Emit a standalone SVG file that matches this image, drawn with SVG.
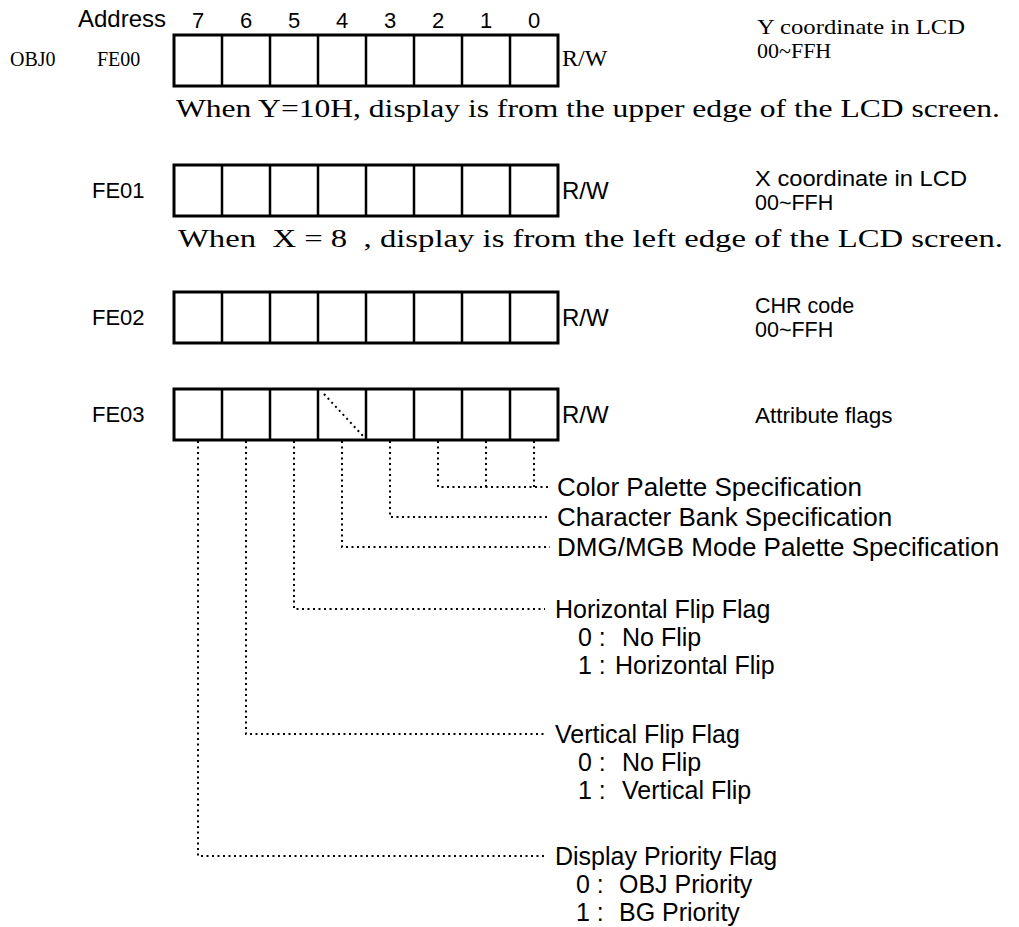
<svg xmlns="http://www.w3.org/2000/svg" width="1019" height="927" viewBox="0 0 1019 927">
<style>
.sans{font-family:"Liberation Sans",Arial,sans-serif;fill:#000}
.serif{font-family:"Liberation Serif","Times New Roman",serif;fill:#000}
.box{fill:#fff;stroke:#000;stroke-width:3}
.div{stroke:#000;stroke-width:2.5}
.dot{fill:none;stroke:#000;stroke-width:2;stroke-dasharray:2 3.5}
.pre{white-space:pre}
</style>
<rect width="1019" height="927" fill="#fff"/>
<g id="header">
<text class="sans" x="78" y="27" font-size="24">Address</text>
<g class="sans" font-size="22" text-anchor="middle">
<text x="198" y="28">7</text><text x="246" y="28">6</text><text x="294" y="28">5</text><text x="342" y="28">4</text>
<text x="390" y="28">3</text><text x="438" y="28">2</text><text x="486" y="28">1</text><text x="534" y="28">0</text>
</g>
</g>
<g id="FE00">
<text class="serif" x="10" y="66" font-size="20">OBJ0</text>
<text class="serif" x="97" y="66" font-size="20">FE00</text>
<rect class="box" x="174" y="35" width="384" height="51"/>
<path class="div" d="M222 35V86M270 35V86M318 35V86M366 35V86M414 35V86M462 35V86M510 35V86"/>
<text class="serif" x="562" y="66" font-size="24">R/W</text>
<text class="serif" x="757" y="34" font-size="22" textLength="208" lengthAdjust="spacingAndGlyphs">Y coordinate in LCD</text>
<text class="serif" x="757" y="58" font-size="22">00~FFH</text>
</g>
<text id="noteY" class="serif" x="176" y="117" font-size="25" textLength="824" lengthAdjust="spacingAndGlyphs">When Y=10H, display is from the upper edge of the LCD screen.</text>
<g id="FE01">
<text class="sans" x="92" y="198" font-size="22">FE01</text>
<rect class="box" x="174" y="165" width="384" height="51"/>
<path class="div" d="M222 165V216M270 165V216M318 165V216M366 165V216M414 165V216M462 165V216M510 165V216"/>
<text class="sans" x="562" y="199" font-size="24">R/W</text>
<text class="sans" x="755" y="186" font-size="21.5" textLength="212" lengthAdjust="spacingAndGlyphs">X coordinate in LCD</text>
<text class="sans" x="755" y="210" font-size="21.5">00~FFH</text>
</g>
<text id="noteX" class="serif pre" x="178" y="247" font-size="25" textLength="825" lengthAdjust="spacingAndGlyphs">When  X = 8  , display is from the left edge of the LCD screen.</text>
<g id="FE02">
<text class="sans" x="92" y="325" font-size="22">FE02</text>
<rect class="box" x="174" y="292" width="384" height="51"/>
<path class="div" d="M222 292V343M270 292V343M318 292V343M366 292V343M414 292V343M462 292V343M510 292V343"/>
<text class="sans" x="562" y="326" font-size="24">R/W</text>
<text class="sans" x="755" y="313" font-size="21.5">CHR code</text>
<text class="sans" x="755" y="337" font-size="21.5">00~FFH</text>
</g>
<g id="FE03">
<text class="sans" x="92" y="422" font-size="22">FE03</text>
<rect class="box" x="174" y="389" width="384" height="51"/>
<path class="div" d="M222 389V440M270 389V440M318 389V440M366 389V440M414 389V440M462 389V440M510 389V440"/>
<path class="dot" d="M324 394L363 436"/>
<text class="sans" x="562" y="423" font-size="24">R/W</text>
<text class="sans" x="755" y="423" font-size="22.5">Attribute flags</text>
</g>
<g id="connectors">
<path class="dot" d="M438 441V487H550M486 441V487M534 441V487"/>
<path class="dot" d="M390 441V517H550"/>
<path class="dot" d="M342 441V547H550"/>
<path class="dot" d="M294 441V609H545"/>
<path class="dot" d="M246 441V734H545"/>
<path class="dot" d="M198 441V856H545"/>
</g>
<g id="labels" class="sans" font-size="25">
<text x="557" y="496" font-size="26">Color Palette Specification</text>
<text x="557" y="526" font-size="26">Character Bank Specification</text>
<text x="557" y="556" font-size="26">DMG/MGB Mode Palette Specification</text>
<g id="hflip">
<text x="555" y="618">Horizontal Flip Flag</text>
<text x="578" y="646">0 :<tspan x="622">No Flip</tspan></text>
<text x="578" y="674">1 :<tspan x="615">Horizontal Flip</tspan></text>
</g>
<g id="vflip">
<text x="555" y="743">Vertical Flip Flag</text>
<text x="578" y="771">0 :<tspan x="622">No Flip</tspan></text>
<text x="578" y="799">1 :<tspan x="622">Vertical Flip</tspan></text>
</g>
<g id="prio">
<text x="555" y="865">Display Priority Flag</text>
<text x="576" y="893">0 :<tspan x="619">OBJ Priority</tspan></text>
<text x="576" y="921">1 :<tspan x="619">BG Priority</tspan></text>
</g>
</g>
</svg>
